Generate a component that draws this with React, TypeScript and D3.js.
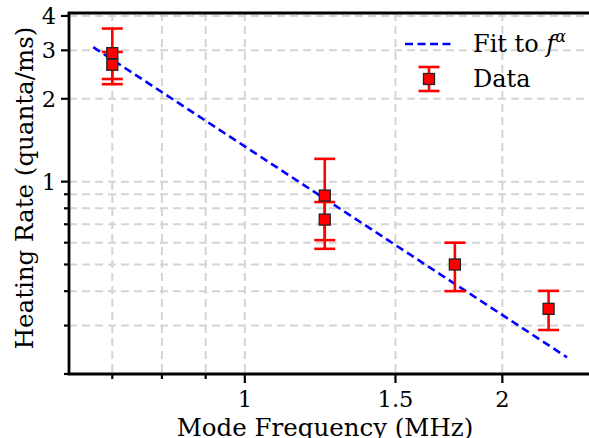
import React from "react";
import * as d3 from "d3";

// ---- data ----
const freqs = [0.7, 0.7, 1.24, 1.24, 1.76, 2.265];
const rates = [2.93, 2.66, 0.89, 0.728, 0.5, 0.345];
const errs = [0.67, 0.3, 0.32, 0.115, 0.1, 0.056];

const fitFreqs = [0.665, 2.38];
const fitRates = [3.08, 0.23];

const xMajorTicks = [1, 1.5, 2];
const xMajorLabels = ["1", "1.5", "2"];
const xMinorTicks = [0.7, 0.8, 0.9];
const yMajorTicks = [1, 2, 3, 4];
const yMajorLabels = ["1", "2", "3", "4"];
const yMinorTicks = [0.2, 0.3, 0.4, 0.5, 0.6, 0.7, 0.8, 0.9];

const xLabel = "Mode Frequency (MHz)";
const yLabel = "Heating Rate (quanta/ms)";
const legendFit = "Fit to ";
const legendData = "Data";

const W = 589;
const H = 438;
const L = 69;
const R = 590;
const T = 13;
const B = 374;

const FONT = "DejaVu Serif";

export default function App() {
  const x = d3.scaleLog().domain([0.623, 2.532]).range([L, R]);
  const y = d3.scaleLog().domain([0.2, 4.1]).range([B, T]);

  const fitLine = d3
    .line<number>()
    .x((_, i) => x(fitFreqs[i]))
    .y((_, i) => y(fitRates[i]));

  const gridColor = "#d4d4d4";
  const gridDash = "8,5";
  const capHalf = 10.5;
  const sq = 11;

  const allX = [...xMinorTicks, ...xMajorTicks];
  const allY = [...yMinorTicks, ...yMajorTicks];

  return (
    <svg
      width={W}
      height={H}
      style={{ position: "absolute", left: 0, top: 0, background: "#fff" }}
      fontFamily={FONT}
    >
      <rect x={0} y={0} width={W} height={H} fill="#fff" />
      {/* grid */}
      <g>
        {allY.map((v, i) => (
          <line
            key={"gy" + i}
            x1={L}
            x2={R}
            y1={y(v)}
            y2={y(v)}
            stroke={gridColor}
            strokeWidth={2}
            strokeDasharray={gridDash}
          />
        ))}
        {allX.map((v, i) => (
          <line
            key={"gx" + i}
            x1={x(v)}
            x2={x(v)}
            y1={T}
            y2={B}
            stroke={gridColor}
            strokeWidth={2}
            strokeDasharray={gridDash}
          />
        ))}
      </g>

      {/* fit line */}
      <path
        d={fitLine(fitFreqs) || ""}
        fill="none"
        stroke="#0000ff"
        strokeWidth={2.6}
        strokeDasharray="8,4.5"
      />

      {/* error bars */}
      <g stroke="#ff0000" strokeWidth={2.6}>
        {freqs.map((f, i) => {
          const cx = x(f);
          const y1 = y(rates[i] + errs[i]);
          const y2 = y(rates[i] - errs[i]);
          return (
            <g key={"e" + i}>
              <line x1={cx} x2={cx} y1={y1} y2={y2} />
              <line x1={cx - capHalf} x2={cx + capHalf} y1={y1} y2={y1} />
              <line x1={cx - capHalf} x2={cx + capHalf} y1={y2} y2={y2} />
            </g>
          );
        })}
      </g>
      {/* markers */}
      <g>
        {freqs.map((f, i) => (
          <rect
            key={"m" + i}
            x={x(f) - sq / 2}
            y={y(rates[i]) - sq / 2}
            width={sq}
            height={sq}
            fill="#ff0000"
            stroke="#222"
            strokeWidth={1.3}
          />
        ))}
      </g>

      {/* spines */}
      <line x1={L} x2={L} y1={T} y2={B} stroke="#000" strokeWidth={2.8} />
      <line x1={L - 1.4} x2={R} y1={B} y2={B} stroke="#000" strokeWidth={2.8} />
      <line x1={L - 1.4} x2={R} y1={T} y2={T} stroke="#000" strokeWidth={2.8} />

      {/* ticks */}
      <g stroke="#000" strokeWidth={2.2}>
        {yMajorTicks.map((v, i) => (
          <line key={"yt" + i} x1={L - 8} x2={L} y1={y(v)} y2={y(v)} />
        ))}
        {yMinorTicks.map((v, i) => (
          <line key={"ym" + i} x1={L - 5} x2={L} y1={y(v)} y2={y(v)} />
        ))}
        {xMajorTicks.map((v, i) => (
          <line key={"xt" + i} x1={x(v)} x2={x(v)} y1={B} y2={B + 9} />
        ))}
        {xMinorTicks.map((v, i) => (
          <line key={"xm" + i} x1={x(v)} x2={x(v)} y1={B} y2={B + 5} />
        ))}
      </g>
      <g fontSize={22.5} fill="#000">
        {yMajorTicks.map((v, i) => (
          <text
            key={"yl" + i}
            x={L - 13}
            y={y(v)}
            textAnchor="end"
            dominantBaseline="central"
          >
            {yMajorLabels[i]}
          </text>
        ))}
        {xMajorTicks.map((v, i) => (
          <text key={"xl" + i} x={x(v)} y={B + 33} textAnchor="middle">
            {xMajorLabels[i]}
          </text>
        ))}
      </g>

      {/* axis labels */}
      <text
        x={325}
        y={436}
        textAnchor="middle"
        fontSize={24.5}
        fill="#000"
      >
        {xLabel}
      </text>
      <text
        transform={`translate(33,${188}) rotate(-90)`}
        textAnchor="middle"
        fontSize={24.5}
        fill="#000"
      >
        {yLabel}
      </text>

      {/* legend */}
      <g>
        <line
          x1={405}
          x2={453}
          y1={44}
          y2={44}
          stroke="#0000ff"
          strokeWidth={2.6}
          strokeDasharray="8,4.5"
        />
        <text x={473} y={52} fontSize={24} fill="#000">
          {legendFit}
          <tspan fontStyle="italic">f</tspan>
          <tspan fontSize={16} dy={-10} fontStyle="italic">
            α
          </tspan>
        </text>
        <g stroke="#ff0000" strokeWidth={2.6}>
          <line x1={429} x2={429} y1={67} y2={91} />
          <line x1={418.5} x2={439.5} y1={67} y2={67} />
          <line x1={418.5} x2={439.5} y1={91} y2={91} />
        </g>
        <rect
          x={429 - sq / 2}
          y={79 - sq / 2}
          width={sq}
          height={sq}
          fill="#ff0000"
          stroke="#222"
          strokeWidth={1.3}
        />
        <text x={473} y={87} fontSize={24} fill="#000">
          {legendData}
        </text>
      </g>
    </svg>
  );
}
